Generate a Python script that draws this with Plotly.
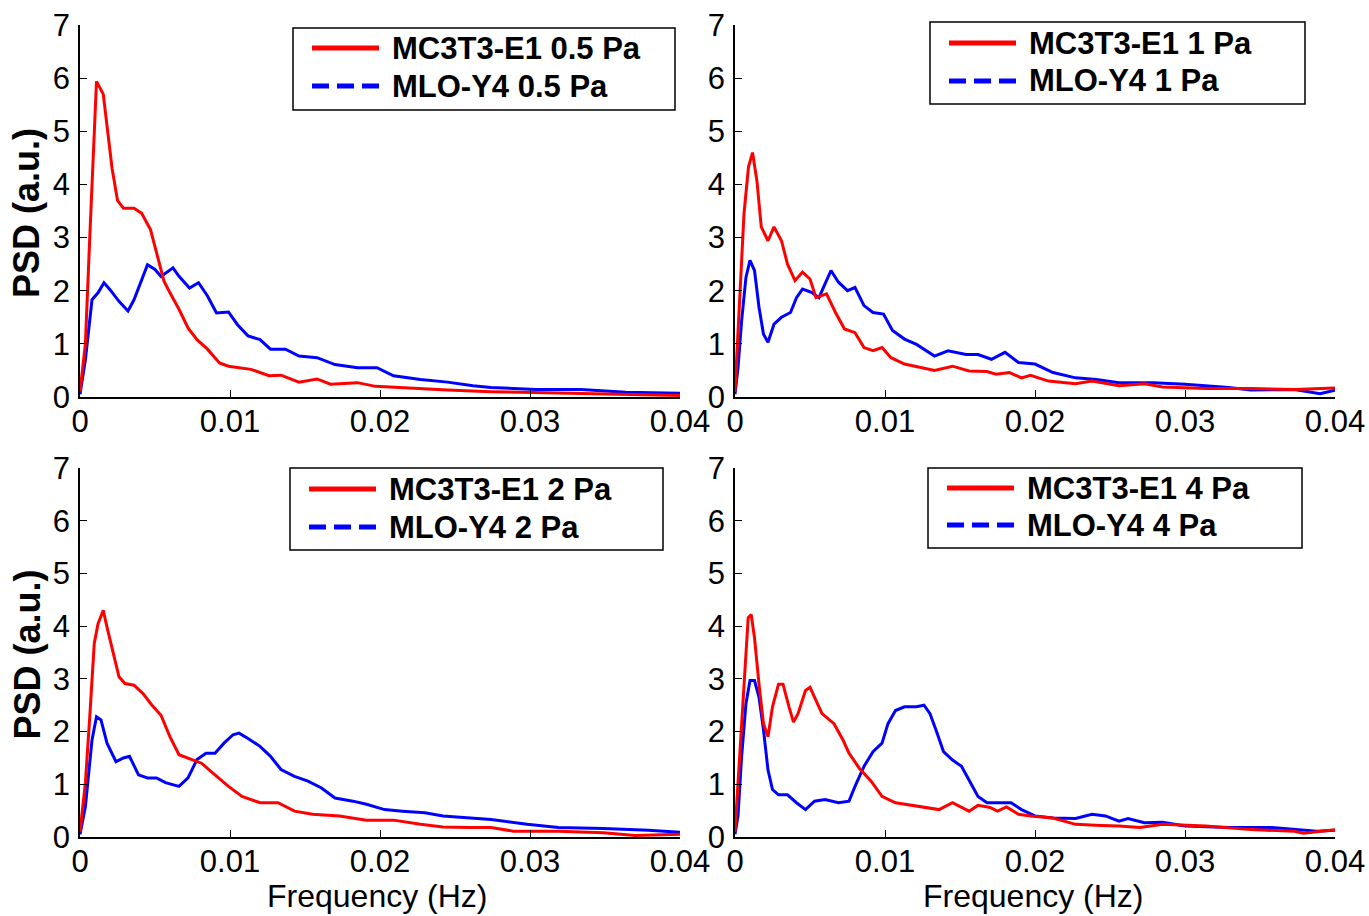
import plotly.graph_objects as go

W, H = 1369, 916

# ---------------- data (frequency in Hz, PSD in a.u.) ----------------
f_red_05 = [0, 0.00036, 0.00065, 0.00095, 0.0011, 0.00155, 0.0018, 0.00214, 0.0025, 0.0029, 0.0036, 0.0041,
            0.0047, 0.0051, 0.0056, 0.006, 0.0066, 0.0072, 0.0078, 0.0085, 0.0093, 0.0099, 0.0114, 0.0126,
            0.0134, 0.0146, 0.0158, 0.0167, 0.0185, 0.0197, 0.0215, 0.0245, 0.0274, 0.0304, 0.0352, 0.04]
p_red_05 = [0.1, 1.0, 3.0, 5.0, 5.94, 5.7, 5.1, 4.3, 3.7, 3.55, 3.55, 3.46,
            3.15, 2.7, 2.18, 1.96, 1.65, 1.3, 1.08, 0.9, 0.64, 0.58, 0.52, 0.4,
            0.41, 0.28, 0.34, 0.24, 0.27, 0.2, 0.17, 0.13, 0.1, 0.08, 0.05, 0.03]

f_blue_05 = [0, 0.00036, 0.0008, 0.0012, 0.0016, 0.002, 0.0026, 0.0032, 0.0036, 0.0041, 0.0045, 0.005,
             0.0054, 0.0062, 0.0066, 0.0073, 0.0079, 0.0085, 0.0091, 0.0099, 0.0105, 0.0112, 0.012, 0.0127,
             0.0137, 0.0146, 0.0158, 0.017, 0.0185, 0.0198, 0.0209, 0.0227, 0.0245, 0.0262, 0.0274, 0.0304,
             0.0334, 0.0364, 0.04]
p_blue_05 = [0.05, 0.7, 1.83, 1.96, 2.15, 2.02, 1.8, 1.62, 1.83, 2.2, 2.49, 2.4,
             2.27, 2.43, 2.27, 2.05, 2.15, 1.9, 1.58, 1.6, 1.36, 1.15, 1.08, 0.9,
             0.9, 0.77, 0.74, 0.61, 0.55, 0.55, 0.4, 0.33, 0.28, 0.21, 0.18, 0.14,
             0.14, 0.09, 0.07]

f_red_1 = [0, 0.0003, 0.0006, 0.0009, 0.00117, 0.00146, 0.00175, 0.0022, 0.0026, 0.0031, 0.0035, 0.004,
           0.0045, 0.005, 0.0054, 0.0061, 0.0067, 0.0073, 0.008, 0.0086, 0.0092, 0.0098, 0.0104, 0.0113,
           0.0124, 0.0133, 0.0145, 0.0156, 0.0168, 0.0174, 0.0183, 0.0191, 0.0197, 0.0209, 0.0227, 0.0238,
           0.0256, 0.0273, 0.0285, 0.0314, 0.0344, 0.0373, 0.04]
p_red_1 = [0.1, 1.8, 3.45, 4.33, 4.6, 4.07, 3.2, 2.94, 3.2, 2.94, 2.5, 2.19,
           2.35, 2.22, 1.87, 1.94, 1.59, 1.28, 1.21, 0.93, 0.87, 0.93, 0.74, 0.62,
           0.55, 0.5, 0.58, 0.49, 0.48, 0.43, 0.46, 0.36, 0.41, 0.3, 0.25, 0.3,
           0.21, 0.25, 0.19, 0.16, 0.16, 0.14, 0.17]

f_blue_1 = [0, 0.0002, 0.00044, 0.00073, 0.001, 0.0013, 0.0016, 0.0019, 0.0022, 0.0026, 0.0031, 0.0037,
            0.0041, 0.0045, 0.0051, 0.0056, 0.006, 0.0064, 0.0069, 0.0075, 0.008, 0.0086, 0.0092, 0.0099,
            0.0105, 0.0113, 0.0121, 0.0133, 0.0142, 0.0154, 0.0162, 0.0171, 0.018, 0.0189, 0.02, 0.0212,
            0.0227, 0.0241, 0.0256, 0.0279, 0.03, 0.0329, 0.0344, 0.0373, 0.039, 0.04]
p_blue_1 = [0.05, 0.55, 1.43, 2.25, 2.57, 2.38, 1.69, 1.18, 1.03, 1.37, 1.5, 1.59,
            1.87, 2.03, 1.97, 1.87, 2.13, 2.38, 2.16, 2.0, 2.06, 1.72, 1.59, 1.56,
            1.25, 1.09, 0.99, 0.77, 0.87, 0.8, 0.8, 0.71, 0.84, 0.65, 0.62, 0.46,
            0.36, 0.33, 0.27, 0.27, 0.24, 0.18, 0.13, 0.14, 0.06, 0.13]

f_red_2 = [0, 0.00036, 0.00065, 0.00095, 0.0012, 0.00155, 0.0018, 0.0022, 0.0026, 0.003, 0.0036, 0.0042,
           0.0048, 0.0054, 0.006, 0.0066, 0.0072, 0.0081, 0.009, 0.0099, 0.0108, 0.012, 0.0132, 0.0143,
           0.0155, 0.0173, 0.0191, 0.0209, 0.0227, 0.0242, 0.026, 0.0274, 0.0289, 0.0319, 0.0349, 0.037, 0.04]
p_red_2 = [0.1, 1.03, 2.28, 3.67, 4.04, 4.3, 3.98, 3.48, 3.04, 2.91, 2.88, 2.72,
           2.5, 2.31, 1.9, 1.56, 1.5, 1.4, 1.18, 0.96, 0.77, 0.65, 0.65, 0.49,
           0.43, 0.4, 0.32, 0.32, 0.24, 0.19, 0.18, 0.18, 0.11, 0.11, 0.08, 0.03, 0.05]

f_blue_2 = [0, 0.00036, 0.0008, 0.0011, 0.0014, 0.0018, 0.0024, 0.0029, 0.0033, 0.0039, 0.0045, 0.0051,
            0.0057, 0.0066, 0.0072, 0.0078, 0.0084, 0.009, 0.0096, 0.0102, 0.0106, 0.0112, 0.012, 0.0127,
            0.0134, 0.0143, 0.0152, 0.0161, 0.017, 0.0182, 0.0191, 0.0203, 0.0215, 0.023, 0.0242, 0.0262,
            0.0274, 0.0298, 0.0319, 0.0349, 0.0379, 0.04]
p_blue_2 = [0.05, 0.58, 1.84, 2.28, 2.22, 1.78, 1.43, 1.5, 1.53, 1.18, 1.12, 1.12,
            1.03, 0.96, 1.12, 1.47, 1.59, 1.59, 1.78, 1.94, 1.97, 1.87, 1.72, 1.53,
            1.28, 1.15, 1.06, 0.93, 0.74, 0.68, 0.62, 0.52, 0.49, 0.46, 0.4, 0.36,
            0.33, 0.24, 0.18, 0.16, 0.13, 0.09]

f_red_4 = [0, 0.0002, 0.00044, 0.00067, 0.00088, 0.00108, 0.0013, 0.0016, 0.0019, 0.0022, 0.0025, 0.0029,
           0.0032, 0.0036, 0.0039, 0.0042, 0.0047, 0.005, 0.0054, 0.0058, 0.0066, 0.0072, 0.0076, 0.0083,
           0.0091, 0.0098, 0.0107, 0.0118, 0.013, 0.0136, 0.0145, 0.0152, 0.0156, 0.0162, 0.017, 0.0175,
           0.0181, 0.0189, 0.0197, 0.0212, 0.0227, 0.0244, 0.0256, 0.027, 0.0285, 0.0314, 0.0344, 0.0373,
           0.0379, 0.04]
p_red_4 = [0.1, 1.02, 2.28, 3.4, 4.16, 4.22, 3.78, 2.9, 2.15, 1.9, 2.47, 2.9,
           2.9, 2.47, 2.18, 2.34, 2.78, 2.84, 2.59, 2.34, 2.15, 1.84, 1.59, 1.3,
           1.05, 0.77, 0.65, 0.6, 0.56, 0.52, 0.65, 0.55, 0.49, 0.6, 0.56, 0.49,
           0.57, 0.43, 0.4, 0.36, 0.24, 0.22, 0.21, 0.18, 0.24, 0.21, 0.14, 0.11,
           0.07, 0.14]

f_blue_4 = [0, 0.0002, 0.00044, 0.00073, 0.001, 0.0013, 0.0016, 0.0019, 0.0022, 0.0025, 0.0029, 0.0035,
            0.0041, 0.0047, 0.0053, 0.006, 0.0069, 0.0076, 0.008, 0.0086, 0.0092, 0.0098, 0.0102, 0.0107,
            0.0113, 0.0121, 0.0126, 0.013, 0.0134, 0.0139, 0.0145, 0.0151, 0.0156, 0.0162, 0.0168, 0.0177,
            0.0184, 0.0191, 0.02, 0.0212, 0.0227, 0.0238, 0.0247, 0.0256, 0.0262, 0.0273, 0.0285, 0.03,
            0.0329, 0.0358, 0.0373, 0.0388, 0.04]
p_blue_4 = [0.05, 0.4, 1.52, 2.53, 2.97, 2.97, 2.65, 2.03, 1.27, 0.9, 0.8, 0.8,
            0.65, 0.52, 0.68, 0.71, 0.65, 0.68, 0.96, 1.34, 1.62, 1.78, 2.15, 2.4,
            2.47, 2.47, 2.5, 2.34, 2.03, 1.62, 1.46, 1.34, 1.08, 0.77, 0.65, 0.65,
            0.65, 0.52, 0.4, 0.36, 0.35, 0.43, 0.4, 0.3, 0.35, 0.27, 0.28, 0.21,
            0.18, 0.18, 0.14, 0.11, 0.13]

red_labels = ["MC3T3-E1 0.5 Pa", "MC3T3-E1 1 Pa", "MC3T3-E1 2 Pa", "MC3T3-E1 4 Pa"]
blue_labels = ["MLO-Y4 0.5 Pa", "MLO-Y4 1 Pa", "MLO-Y4 2 Pa", "MLO-Y4 4 Pa"]

x_ticks = [0, 0.01, 0.02, 0.03, 0.04]
x_ticktext = ["0", "0.01", "0.02", "0.03", "0.04"]
y_ticks = [0, 1, 2, 3, 4, 5, 6, 7]

panels = [
    (f_red_05, p_red_05, f_blue_05, p_blue_05),
    (f_red_1, p_red_1, f_blue_1, p_blue_1),
    (f_red_2, p_red_2, f_blue_2, p_blue_2),
    (f_red_4, p_red_4, f_blue_4, p_blue_4),
]

# ---------------- layout geometry (pixels) ----------------
def px(x):
    return x / W

def py(y):
    return 1 - y / H

# plot areas: (left, right, top, bottom) in px
areas = [(80, 680, 25, 397), (735, 1335, 25, 397), (80, 680, 468, 837), (735, 1335, 468, 837)]
# legend boxes: (x0, y0, x1, y1, row1_y, row2_y)
legs = [(293, 28, 675, 110, 48, 86), (930, 22, 1305, 104, 43, 81),
        (290, 468, 663, 550, 489, 527), (928, 468, 1302, 548, 488, 525)]

FONT = "Liberation Sans, Arial, sans-serif"
RED = "#ff0000"
BLUE = "#0000ff"

fig = go.Figure()
layout = dict(width=W, height=H, margin=dict(l=0, r=0, t=0, b=0),
              paper_bgcolor="white", plot_bgcolor="white", showlegend=False,
              font=dict(family=FONT, color="black"))
shapes = []
annotations = []

for i, (fr, pr, fb, pb) in enumerate(panels):
    n = "" if i == 0 else str(i + 1)
    xa, ya = "x" + n, "y" + n
    l, r, t, b = areas[i]
    fig.add_trace(go.Scatter(x=fb, y=pb, mode="lines", xaxis=xa, yaxis=ya,
                             line=dict(color=BLUE, width=3), name=blue_labels[i]))
    fig.add_trace(go.Scatter(x=fr, y=pr, mode="lines", xaxis=xa, yaxis=ya,
                             line=dict(color=RED, width=3), name=red_labels[i]))
    common = dict(showgrid=False, zeroline=False, showline=True, linecolor="black", linewidth=1.5,
                  ticks="inside", ticklen=7, tickwidth=1.2, tickcolor="black",
                  tickfont=dict(family=FONT, size=31, color="black"), automargin=False)
    layout["xaxis" + n] = dict(common, domain=[px(l), px(r)], range=[0, 0.04], anchor=ya,
                               tickvals=x_ticks, ticktext=x_ticktext, ticklabelstandoff=-4)
    layout["yaxis" + n] = dict(common, domain=[py(b), py(t)], range=[0, 7], anchor=xa,
                               tickvals=y_ticks, ticklabelstandoff=2)

    # legend drawn manually (lines in plot solid, legend shows dashed blue sample)
    x0, y0, x1, y1, r1, r2 = legs[i]
    shapes.append(dict(type="rect", xref="paper", yref="paper", x0=px(x0), x1=px(x1),
                       y0=py(y1), y1=py(y0), line=dict(color="black", width=1.5),
                       fillcolor="white", layer="above"))
    shapes.append(dict(type="line", xref="paper", yref="paper", x0=px(x0 + 19), x1=px(x0 + 86),
                       y0=py(r1), y1=py(r1), line=dict(color=RED, width=5)))
    shapes.append(dict(type="line", xref="paper", yref="paper", x0=px(x0 + 19), x1=px(x0 + 86),
                       y0=py(r2), y1=py(r2), line=dict(color=BLUE, width=5, dash="17px,8px")))
    annotations.append(dict(xref="paper", yref="paper", x=px(x0 + 97), y=py(r1), xanchor="left",
                            yanchor="middle", showarrow=False, text="<b>%s</b>" % red_labels[i],
                            font=dict(family=FONT, size=31, color="black")))
    annotations.append(dict(xref="paper", yref="paper", x=px(x0 + 97), y=py(r2), xanchor="left",
                            yanchor="middle", showarrow=False, text="<b>%s</b>" % blue_labels[i],
                            font=dict(family=FONT, size=31, color="black")))

# axis titles
for (l, r, t, b) in [areas[0], areas[2]]:
    annotations.append(dict(xref="paper", yref="paper", x=px(27), y=py((t + b) / 2 + 2),
                            xanchor="center", yanchor="middle", showarrow=False, textangle=-90,
                            text="<b>PSD (a.u.)</b>", font=dict(family=FONT, size=36, color="black")))
for (l, r, t, b) in [areas[2], areas[3]]:
    annotations.append(dict(xref="paper", yref="paper", x=px((l + r) / 2 - 2), y=py(896),
                            xanchor="center", yanchor="middle", showarrow=False,
                            text="Frequency (Hz)", font=dict(family=FONT, size=32, color="black")))

layout["shapes"] = shapes
layout["annotations"] = annotations
fig.update_layout(**layout)
fig.write_html("out.html", config={"displayModeBar": False},
               post_script="document.body.style.margin='0';document.body.style.padding='0';"
                           "document.body.style.overflow='hidden';")
